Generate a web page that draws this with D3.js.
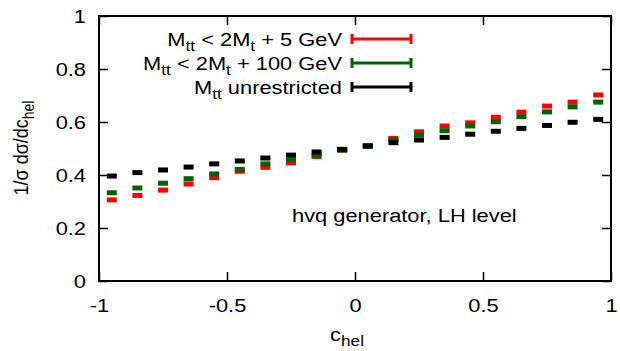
<!DOCTYPE html>
<html>
<head>
<meta charset="utf-8">
<script src="https://cdn.jsdelivr.net/npm/d3@7"></script>
<style>
  body { margin: 0; background: #fff; }
  svg { display: block; font-family: "Liberation Sans", Arial, sans-serif; }
</style>
</head>
<body>
<svg id="chart"></svg>
<script>
// Bin centres of c_hel (20 bins of width 0.1)
const binCenters = [-0.95, -0.85, -0.75, -0.65, -0.55, -0.45, -0.35, -0.25, -0.15, -0.05,
                    0.05, 0.15, 0.25, 0.35, 0.45, 0.55, 0.65, 0.75, 0.85, 0.95];

// 1/sigma dsigma/dc_hel for each selection
const redValues = [0.306, 0.323, 0.343, 0.366, 0.390, 0.414, 0.429, 0.446, 0.470, 0.494,
                   0.511, 0.538, 0.563, 0.585, 0.597, 0.618, 0.637, 0.660, 0.675, 0.702];
const greenValues = [0.333, 0.351, 0.369, 0.386, 0.404, 0.421, 0.442, 0.457, 0.474, 0.494,
                     0.509, 0.532, 0.551, 0.567, 0.585, 0.601, 0.620, 0.638, 0.657, 0.675];
const blackValues = [0.396, 0.409, 0.419, 0.430, 0.442, 0.453, 0.464, 0.475, 0.487, 0.497,
                     0.509, 0.522, 0.532, 0.542, 0.554, 0.565, 0.576, 0.587, 0.599, 0.610];

const xTicks = [-1, -0.5, 0, 0.5, 1];
const yTicks = [0, 0.2, 0.4, 0.6, 0.8, 1];

const series = [
  { name: "red", values: redValues, color: "#ff0000", label: [["M", 0], ["tt", 1], [" < 2M", 0], ["t", 1], [" + 5 GeV", 0]] },
  { name: "green", values: greenValues, color: "#006400", label: [["M", 0], ["tt", 1], [" < 2M", 0], ["t", 1], [" + 100 GeV", 0]] },
  { name: "black", values: blackValues, color: "#000000", label: [["M", 0], ["tt", 1], [" unrestricted", 0]] }
];

const W = 620, H = 351;
const margin = { top: 16, right: 9, bottom: 70, left: 99 };
const width = W - margin.left - margin.right;
const height = H - margin.top - margin.bottom;

// the original picture has text that is a bit wider than normal
const FS = 19, SUB = 15, STRETCH = 1.15;

const svg = d3.select("#chart").attr("width", W).attr("height", H);
const g = svg.append("g").attr("transform", `translate(${margin.left},${margin.top})`);

const x = d3.scaleLinear().domain([-1, 1]).range([0, width]);
const y = d3.scaleLinear().domain([0, 1]).range([height, 0]);

// Axes with inward ticks (gnuplot style), mirrored on top and right
const fmt = d => String(d);
g.append("g")
  .attr("transform", `translate(0,${height})`)
  .call(d3.axisBottom(x).tickValues(xTicks).tickFormat(fmt).tickSizeInner(-9).tickSizeOuter(0).tickPadding(18));
g.append("g")
  .call(d3.axisLeft(y).tickValues(yTicks).tickFormat(fmt).tickSizeInner(-9).tickSizeOuter(0).tickPadding(13 / STRETCH));
g.append("g")
  .call(d3.axisTop(x).tickValues(xTicks).tickFormat("").tickSizeInner(-9).tickSizeOuter(0));
g.append("g")
  .attr("transform", `translate(${width},0)`)
  .call(d3.axisRight(y).tickValues(yTicks).tickFormat("").tickSizeInner(-9).tickSizeOuter(0));

g.selectAll(".domain").remove();
g.selectAll(".tick line").attr("stroke", "#000").attr("stroke-width", 1.5);
g.selectAll(".tick text").attr("font-size", FS).attr("fill", "#000")
  .attr("font-family", "Liberation Sans, Arial, sans-serif")
  .attr("transform", `scale(${STRETCH},1)`);

g.append("rect")
  .attr("width", width).attr("height", height)
  .attr("fill", "none").attr("stroke", "#000").attr("stroke-width", 2);

// Data markers: short thick horizontal bars at each bin centre
const markW = 10, markH = 5;
series.forEach(s => {
  g.append("g").selectAll("rect")
    .data(binCenters.map((c, i) => ({ c, v: s.values[i] })))
    .join("rect")
    .attr("x", d => x(d.c) - markW / 2)
    .attr("y", d => y(d.v) - markH / 2)
    .attr("width", markW)
    .attr("height", markH)
    .attr("fill", s.color);
});

// Legend
const legX1 = 352, legX2 = 411, legTextX = 342;
series.forEach((s, i) => {
  const ly = 39 + i * 24;
  const lg = svg.append("g");
  lg.append("line").attr("x1", legX1).attr("x2", legX2).attr("y1", ly).attr("y2", ly)
    .attr("stroke", s.color).attr("stroke-width", 3);
  [legX1, legX2].forEach(cx => {
    lg.append("line").attr("x1", cx).attr("x2", cx).attr("y1", ly - 5).attr("y2", ly + 5)
      .attr("stroke", s.color).attr("stroke-width", 3);
  });
  const t = lg.append("text")
    .attr("transform", `translate(${legTextX},${ly + 7}) scale(${STRETCH},1)`)
    .attr("text-anchor", "end").attr("font-size", FS).attr("fill", "#000");
  s.label.forEach(([txt, sub], j) => {
    const ts = t.append("tspan").text(txt);
    if (sub) ts.attr("font-size", SUB).attr("dy", 5);
    else if (j > 0) ts.attr("dy", -5);
  });
});

// Annotation
svg.append("text")
  .attr("transform", `translate(292,222) scale(${STRETCH},1)`)
  .attr("font-size", FS).attr("fill", "#000")
  .text("hvq generator, LH level");

// Axis titles
const xl = svg.append("text")
  .attr("transform", `translate(347,341) scale(${STRETCH},1)`)
  .attr("text-anchor", "middle").attr("font-size", FS);
xl.append("tspan").text("c");
xl.append("tspan").text("hel").attr("font-size", SUB).attr("dy", 5);

const yl = svg.append("text")
  .attr("transform", `translate(28,148) scale(${STRETCH},1) rotate(-90)`)
  .attr("text-anchor", "middle").attr("font-size", 18);
yl.append("tspan").text("1/σ dσ/dc");
yl.append("tspan").text("hel").attr("font-size", 14).attr("dy", 5);
</script>
</body>
</html>
